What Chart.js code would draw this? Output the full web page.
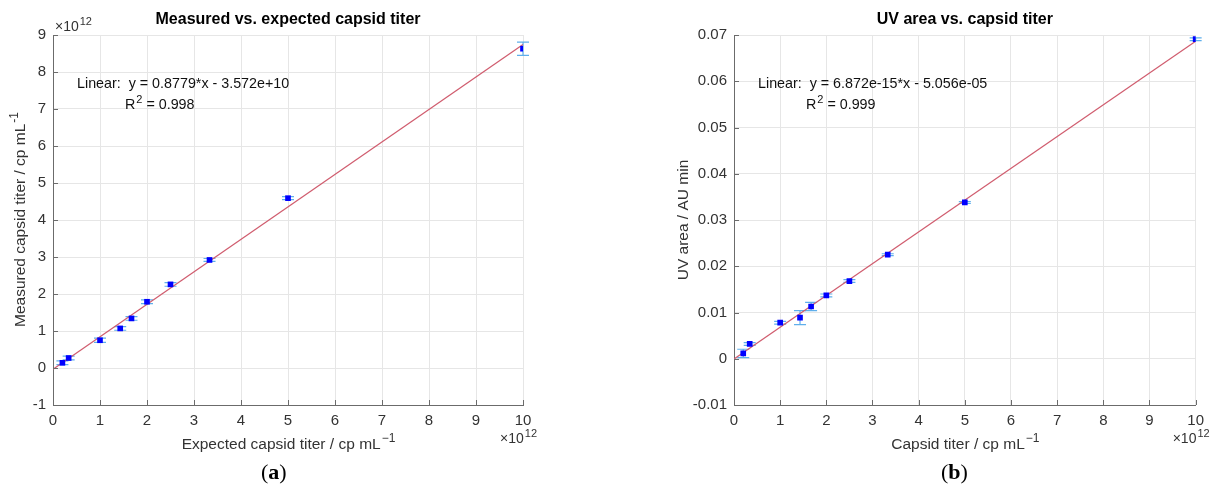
<!DOCTYPE html>
<html>
<head>
<meta charset="utf-8">
<script src="https://cdn.jsdelivr.net/npm/chart.js@4.4.1/dist/chart.umd.min.js"></script>
<style>
  html, body { margin:0; padding:0; background:#fff; }
  #wrap { position:relative; width:1211px; height:490px; overflow:hidden; }
  .box { position:absolute; top:0; height:490px; }
  #boxA { left:0; width:605px; }
  #boxB { left:605px; width:606px; }
  .cap { position:absolute; top:459px; font-family:"Liberation Serif","DejaVu Serif",serif; font-size:22px; color:#000; }
  .cap b { font-weight:bold; }
</style>
</head>
<body>
<div id="wrap">
  <div class="box" id="boxA"><canvas id="chartA" width="605" height="490"></canvas></div>
  <div class="box" id="boxB"><canvas id="chartB" width="606" height="490"></canvas></div>
  <div class="cap" style="left:261px;">(<b>a</b>)</div>
  <div class="cap" style="left:941px;">(<b>b</b>)</div>
</div>
<script>
// ---- Data (x values in units of 10^12 cp/mL) ----
const expectedTiter = [0.2, 0.333, 1, 1.43, 1.67, 2, 2.5, 3.33, 5, 10];
const measuredTiter = [0.14, 0.27, 0.75, 1.07, 1.34, 1.79, 2.26, 2.92, 4.59, 8.63];
const measuredErr   = [0.05, 0.05, 0.06, 0.05, 0.05, 0.05, 0.05, 0.04, 0.04, 0.18];
const fitXA = [0, 10];
const fitYA = [-0.036, 8.743];

const capsidTiter = [0.2, 0.34, 1, 1.43, 1.67, 2, 2.5, 3.33, 5, 10];
const uvArea      = [0.00115, 0.0032, 0.0078, 0.0089, 0.0113, 0.0137, 0.0168, 0.0225, 0.0338, 0.0691];
const uvErr       = [0.0009, 0.0003, 0.0003, 0.0015, 0.0009, 0.0003, 0.0003, 0.0002, 0.0002, 0.0003];
const fitXB = [0, 10];
const fitYB = [-0.0000506, 0.06867];

const xTicks = [0,1,2,3,4,5,6,7,8,9,10];
const yTicksA = [-1,0,1,2,3,4,5,6,7,8,9];
const yTicksB = [-0.01,0,0.01,0.02,0.03,0.04,0.05,0.06,0.07];

const FONT = '"Liberation Sans", Arial, Helvetica, sans-serif';
const AXIS_COLOR = '#6b6b6b';
const TEXT_COLOR = '#333333';
const GRID_COLOR = '#e6e6e6';
const ERR_COLOR = 'rgb(95,175,235)';
const MARK_COLOR = '#0000ff';
const FIT_COLOR = 'rgb(208,92,110)';

function supText(ctx, base, sup, x, y, size, align) {
  ctx.save();
  ctx.font = size + 'px ' + FONT;
  const wb = ctx.measureText(base).width;
  ctx.font = Math.round(size*0.75) + 'px ' + FONT;
  const ws = ctx.measureText(sup).width;
  let sx = x;
  if (align === 'center') sx = x - (wb + ws) / 2;
  else if (align === 'right') sx = x - (wb + ws);
  ctx.textAlign = 'left';
  ctx.textBaseline = 'alphabetic';
  ctx.font = size + 'px ' + FONT;
  ctx.fillText(base, sx, y);
  ctx.font = Math.round(size*0.75) + 'px ' + FONT;
  ctx.fillText(sup, sx + wb + 1, y - size*0.45);
  ctx.restore();
  return wb + ws + 1;
}

function makePlugin(cfg) {
  return {
    id: 'decor',
    beforeDatasetsDraw(chart) {
      const ctx = chart.ctx, xs = chart.scales.x, ys = chart.scales.y;
      ctx.save();
      ctx.strokeStyle = ERR_COLOR;
      ctx.lineWidth = 1.2;
      cfg.xs.forEach((xv, i) => {
        const px = xs.getPixelForValue(xv);
        const top = ys.getPixelForValue(cfg.ys[i] + cfg.err[i]);
        const bot = ys.getPixelForValue(cfg.ys[i] - cfg.err[i]);
        ctx.beginPath();
        ctx.moveTo(px, top); ctx.lineTo(px, bot);
        ctx.moveTo(px - 6, top); ctx.lineTo(px + 6, top);
        ctx.moveTo(px - 6, bot); ctx.lineTo(px + 6, bot);
        ctx.stroke();
      });
      ctx.restore();
    },
    afterDraw(chart) {
      const ctx = chart.ctx, xs = chart.scales.x, ys = chart.scales.y;
      const a = chart.chartArea;
      ctx.save();
      // inward tick marks
      ctx.strokeStyle = AXIS_COLOR;
      ctx.lineWidth = 1;
      ctx.beginPath();
      xs.ticks.forEach(t => {
        const px = Math.round(xs.getPixelForValue(t.value)) + 0.5;
        ctx.moveTo(px, a.bottom); ctx.lineTo(px, a.bottom - 5);
      });
      ys.ticks.forEach(t => {
        const py = Math.round(ys.getPixelForValue(t.value)) + 0.5;
        ctx.moveTo(a.left, py); ctx.lineTo(a.left + 5, py);
      });
      ctx.stroke();
      // title
      const cx = (a.left + a.right) / 2;
      ctx.fillStyle = '#000';
      ctx.font = 'bold 16px ' + FONT;
      ctx.textAlign = 'center';
      ctx.textBaseline = 'alphabetic';
      ctx.fillText(cfg.title, cx, 24);
      ctx.fillStyle = TEXT_COLOR;
      // x axis title
      supText(ctx, cfg.xTitle, '\u22121', cx, 449, 15.5, 'center');
      // x exponent
      supText(ctx, '\u00d710', '12', a.right + 13, 443, 14, 'right');
      // y exponent
      if (cfg.yExp) supText(ctx, '\u00d710', '12', a.left + 2, 31, 14, 'left');
      // y axis title (rotated)
      ctx.save();
      ctx.translate(cfg.yTitleX, (a.top + a.bottom) / 2);
      ctx.rotate(-Math.PI / 2);
      if (cfg.yTitleSup) supText(ctx, cfg.yTitle, cfg.yTitleSup, 0, 0, 15.5, 'center');
      else { ctx.font = '15.5px ' + FONT; ctx.textAlign = 'center'; ctx.fillText(cfg.yTitle, 0, 0); }
      ctx.restore();
      // fit annotation
      ctx.fillStyle = '#111';
      ctx.font = '14.3px ' + FONT;
      ctx.textAlign = 'left';
      ctx.fillText(cfg.eq, cfg.eqX, 88);
      const wR = supText(ctx, 'R', '2', cfg.eqX + 48, 109, 14.3, 'left');
      ctx.font = '14.3px ' + FONT;
      ctx.fillText(' = ' + cfg.r2, cfg.eqX + 48 + wR, 109);
      ctx.restore();
    }
  };
}

function makeChart(id, cfg) {
  const pts = cfg.xs.map((x, i) => ({ x: x, y: cfg.ys[i] }));
  const fit = cfg.fitX.map((x, i) => ({ x: x, y: cfg.fitY[i] }));
  return new Chart(document.getElementById(id), {
    type: 'scatter',
    data: {
      datasets: [
        { type: 'line', data: fit, borderColor: FIT_COLOR, borderWidth: 1.2, pointRadius: 0, fill: false, order: 2 },
        { data: pts, pointStyle: 'rect', pointRadius: 4, backgroundColor: MARK_COLOR, borderColor: MARK_COLOR, borderWidth: 0, order: 1 }
      ]
    },
    options: {
      responsive: false,
      animation: false,
      events: [],
      layout: { padding: { left: 0, top: 35, right: cfg.padRight, bottom: 0 } },
      plugins: { legend: { display: false }, tooltip: { enabled: false }, title: { display: false } },
      scales: {
        x: {
          type: 'linear', min: 0, max: 10,
          afterBuildTicks: s => { s.ticks = xTicks.map(v => ({ value: v })); },
          afterFit: s => { s.height = 85; },
          ticks: { font: { family: FONT, size: 15 }, color: TEXT_COLOR, padding: 7, maxRotation: 0, callback: v => String(v) },
          grid: { color: GRID_COLOR, drawTicks: false },
          border: { display: true, color: AXIS_COLOR, width: 1 }
        },
        y: {
          type: 'linear', min: cfg.yMin, max: cfg.yMax,
          afterBuildTicks: s => { s.ticks = cfg.yTicks.map(v => ({ value: v })); },
          afterFit: s => { s.width = cfg.yWidth; },
          ticks: { font: { family: FONT, size: 15 }, color: TEXT_COLOR, padding: 7, callback: v => String(Number(v.toFixed(4))) },
          grid: { color: GRID_COLOR, drawTicks: false },
          border: { display: true, color: AXIS_COLOR, width: 1 }
        }
      }
    },
    plugins: [makePlugin(cfg)]
  });
}

makeChart('chartA', {
  xs: expectedTiter, ys: measuredTiter, err: measuredErr, fitX: fitXA, fitY: fitYA,
  yMin: -1, yMax: 9, yTicks: yTicksA, yWidth: 53, padRight: 82,
  title: 'Measured vs. expected capsid titer',
  xTitle: 'Expected capsid titer / cp mL',
  yTitle: 'Measured capsid titer / cp mL', yTitleSup: '-1', yTitleX: 25, yExp: true,
  eq: 'Linear:  y = 0.8779*x - 3.572e+10', eqX: 77, r2: '0.998'
});

makeChart('chartB', {
  xs: capsidTiter, ys: uvArea, err: uvErr, fitX: fitXB, fitY: fitYB,
  yMin: -0.01, yMax: 0.07, yTicks: yTicksB, yWidth: 129, padRight: 7,
  title: 'UV area vs. capsid titer',
  xTitle: 'Capsid titer / cp mL',
  yTitle: 'UV area / AU min', yTitleSup: null, yTitleX: 83, yExp: false,
  eq: 'Linear:  y = 6.872e-15*x - 5.056e-05', eqX: 153, r2: '0.999'
});
</script>
</body>
</html>
